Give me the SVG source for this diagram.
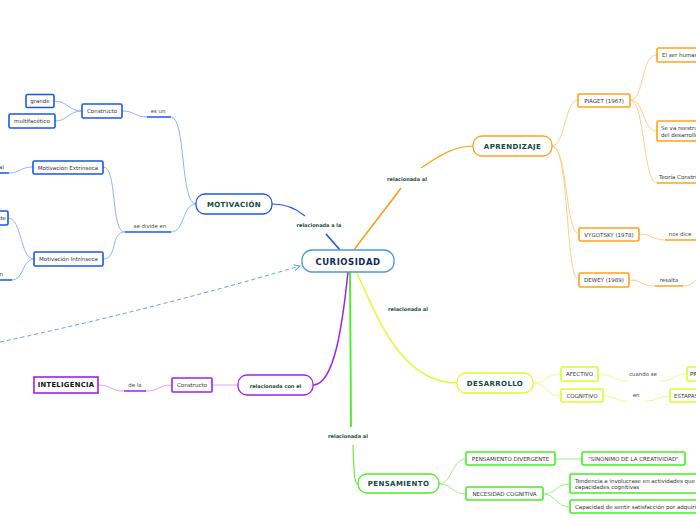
<svg xmlns="http://www.w3.org/2000/svg" width="696" height="520" viewBox="0 0 696 520">
<style>
text{font-family:"DejaVu Sans","Verdana",sans-serif;dominant-baseline:central}
.main{font-weight:bold;font-size:7px;fill:#0f4a3a;text-anchor:middle;letter-spacing:0.4px}
.sub{font-size:5.5px;fill:#333;}
.subc{font-size:5.5px;fill:#333;text-anchor:middle}
.lbl{font-size:5px;font-weight:bold;fill:#1d4a3a;text-anchor:middle}
.pl{font-size:5.4px;fill:#444;text-anchor:middle}
.c{fill:none;stroke-width:1}
.bB{fill:#fff;stroke:#1a56f0;stroke-width:1.6}
.bO{fill:#fff;stroke:#ffa31a;stroke-width:1.6}
.bY{fill:#fff;stroke:#d4ff2a;stroke-width:1.6}
.bG{fill:#fff;stroke:#44ee22;stroke-width:1.6}
.bP{fill:#fff;stroke:#a020f0;stroke-width:1.6}
.lB{stroke:#8fb2ff}.lO{stroke:#ffcf88}.lY{stroke:#e6ff88}.lG{stroke:#9cf086}.lP{stroke:#dca4f2}
</style>
<defs>
<marker id="arr" markerWidth="8" markerHeight="8" refX="6" refY="4" orient="auto" markerUnits="userSpaceOnUse">
<path d="M0,1 L6,4 L0,7" fill="none" stroke="#5aa0e0" stroke-width="1"/>
</marker>
</defs>
<rect width="696" height="520" fill="#fff"/>
<g id="connectors">
<path d="M272,204 C288,204 298,210 305,216" fill="none" stroke="#2a5ee8" stroke-width="1.2"/>
<path d="M326,234 L340,250" fill="none" stroke="#2a5ee8" stroke-width="1.8"/>
<path d="M354,250 C370,228 388,206 401,188" fill="none" stroke="#ff9a10" stroke-width="1.5"/>
<path d="M421,168 C440,155 455,146 473,146" fill="none" stroke="#ffa31a" stroke-width="1.2"/>
<path d="M356,272 C372,300 395,383 457,383" fill="none" stroke="#d8ff30" stroke-width="1.5"/>
<path d="M350,272 L351,427" fill="none" stroke="#44ee22" stroke-width="1.8"/>
<path d="M353,445 C354,472 354,484 358,484" fill="none" stroke="#66ee44" stroke-width="1.2"/>
<path d="M348,272 C343,320 335,385 313,385" fill="none" stroke="#a020f0" stroke-width="1.5"/>
<path d="M0,342 Q150,310 300,266" fill="none" stroke="#5aa0e0" stroke-width="1" stroke-dasharray="4,3" marker-end="url(#arr)"/>
<path class="c lB" d="M122,111 C135,111 135,117 147,117"/>
<path d="M147,117 H171" stroke="#1a56f0" stroke-width="1.5"/>
<path class="c lB" d="M171,117 C186,117 180,204 196,204"/>
<path class="c lB" d="M54,101 C68,101 68,111 82,111"/>
<path class="c lB" d="M55,121 C68,121 68,111 82,111"/>
<path class="c lB" d="M103,167 C118,167 110,232 125,232"/>
<path class="c lB" d="M103,259 C118,259 110,232 125,232"/>
<path d="M125,232 H171" stroke="#1a56f0" stroke-width="1.5"/>
<path class="c lB" d="M171,232 C185,232 182,204 196,204"/>
<path d="M0,173 H9" stroke="#1a56f0" stroke-width="1.5"/>
<path class="c lB" d="M9,173 C20,173 20,167 33,167"/>
<path class="c lB" d="M8,218 C22,218 20,259 34,259"/>
<path d="M0,280 H12" stroke="#1a56f0" stroke-width="1.5"/>
<path class="c lB" d="M12,280 C24,280 22,259 34,259"/>
<path class="c lO" d="M552,146 C565,146 565,100 578,100"/>
<path class="c lO" d="M552,146 C568,146 565,234 579,234"/>
<path class="c lO" d="M552,146 C570,146 565,280 579,280"/>
<path class="c lO" d="M630,100 C645,100 640,55 657,55"/>
<path class="c lO" d="M630,100 C645,100 642,131 657,131"/>
<path class="c lO" d="M630,100 C645,100 643,183 657,183"/>
<path d="M657,183 H696" stroke="#ffa31a" stroke-width="1.5"/>
<path class="c lO" d="M639,234 C652,234 652,240 665,240"/>
<path d="M665,240 H696" stroke="#ffa31a" stroke-width="1.5"/>
<path class="c lO" d="M629,280 C642,280 642,286 655,286"/>
<path d="M655,286 H683" stroke="#ffa31a" stroke-width="1.5"/>
<path class="c lO" d="M683,286 C690,286 692,283 696,280"/>
<path class="c lY" d="M533,383 C548,383 545,374 561,374"/>
<path class="c lY" d="M533,383 C548,383 545,396 561,396"/>
<path class="c lY" d="M598,374 C612,374 614,381 628,381"/>
<path class="c lY" d="M660,381 C673,381 673,374 687,374"/>
<path class="c lY" d="M603,396 C615,396 616,401 626,401"/>
<path class="c lY" d="M646,401 C658,401 658,396 670,396"/>
<path class="c lG" d="M439,484 C452,484 452,459 466,459"/>
<path class="c lG" d="M439,484 C452,484 452,494 466,494"/>
<path class="c lG" d="M555,459 H582"/>
<path class="c lG" d="M543,494 C556,494 556,484 570,484"/>
<path class="c lG" d="M543,494 C556,494 556,507 570,507"/>
<path class="c lP" d="M98,385 C112,385 110,391 124,391"/>
<path d="M124,391 H146" stroke="#a020f0" stroke-width="1.5"/>
<path class="c lP" d="M146,391 C160,391 158,385 172,385"/>
<path class="c lP" d="M212,385 H238"/>
</g>
<g id="labels">
<text class="lbl" x="319" y="225">relacionada a la</text>
<text class="lbl" x="407" y="179">relacionada al</text>
<text class="lbl" x="408" y="309">relacionada al</text>
<text class="lbl" x="348" y="436">relacionada al</text>
<text class="pl" x="158" y="111">es un</text>
<text class="pl" x="150" y="226">se divide en</text>
<text class="pl" x="135" y="385">de la</text>
<text class="pl" x="680" y="234">nos dice</text>
<text class="pl" x="669" y="280">resalta</text>
<text class="pl" x="643" y="374">cuando se</text>
<text class="pl" x="636" y="395">en</text>
<text class="sub" x="4" y="167" text-anchor="end">social</text>
<text class="sub" x="3" y="274" text-anchor="end">Satisfacción</text>
</g>
<g id="curiosidad"><rect x="302" y="250" width="92" height="22" rx="10" fill="#fff" stroke="#4a9ad6" stroke-width="1.3"/><text x="348" y="261.5" style="font-weight:bold;font-size:8.5px;fill:#0f2a5a;text-anchor:middle;letter-spacing:0.5px">CURIOSIDAD</text></g>
<g id="motivacion"><rect x="196" y="194" width="76" height="20" rx="9" fill="#fff" stroke="#1a56f0" stroke-width="1.3"/><text class="main" x="234" y="204.5">MOTIVACIÓN</text></g>
<g id="constructo1"><rect class="bB" x="82" y="104" width="40" height="14" rx="1.5"/><text class="subc" x="102" y="111">Constructo</text></g>
<g id="grande"><rect class="bB" x="26" y="94.5" width="28" height="13" rx="1.5"/><text class="subc" x="40" y="101">grande</text></g>
<g id="multifacetico"><rect class="bB" x="9" y="114" width="46" height="14" rx="1.5"/><text class="subc" x="32" y="121">multifacético</text></g>
<g id="extrinseca"><rect class="bB" x="33" y="161" width="70" height="13" rx="1.5"/><text class="subc" x="68" y="167.5">Motivación Extrínseca</text></g>
<g id="intrinseca"><rect class="bB" x="34" y="252" width="69" height="14" rx="1.5"/><text class="subc" x="68.5" y="259">Motivación Intrínseca</text></g>
<g id="disfrute"><rect class="bB" x="-40" y="211" width="48" height="14" rx="1.5"/><text class="sub" x="6" y="218" text-anchor="end">Disfrute</text></g>
<g id="aprendizaje"><rect x="473" y="136" width="79" height="20" rx="9" fill="#fff" stroke="#ffa31a" stroke-width="1.3"/><text class="main" x="512.5" y="146.5">APRENDIZAJE</text></g>
<g id="piaget"><rect class="bO" x="578" y="94" width="52" height="13" rx="1.5"/><text class="subc" x="604" y="100.5">PIAGET (1967)</text></g>
<g id="vygotsky"><rect class="bO" x="579" y="228" width="60" height="13" rx="1.5"/><text class="subc" x="609" y="234.5">VYGOTSKY (1978)</text></g>
<g id="dewey"><rect class="bO" x="579" y="273" width="50" height="14" rx="1.5"/><text class="subc" x="604" y="280">DEWEY (1989)</text></g>
<g id="serhumano"><rect class="bO" x="657" y="48" width="60" height="14" rx="1.5"/><text class="sub" x="662" y="55">El ser humano</text></g>
<g id="reestructura"><rect class="bO" x="657" y="121" width="60" height="20" rx="1.5"/><text class="sub" x="661" y="128">Se va reestructurando</text><text class="sub" x="661" y="134.5">del desarrollo</text></g>
<g id="teoria"><text class="sub" x="659" y="177">Teoría Constructivista</text></g>
<g id="desarrollo"><rect x="457" y="373" width="76" height="20" rx="9" fill="#fff" stroke="#d4ff2a" stroke-width="1.3"/><text class="main" x="495" y="383.5">DESARROLLO</text></g>
<g id="afectivo"><rect class="bY" x="561" y="367" width="37" height="14" rx="1.5"/><text class="subc" x="579.5" y="374">AFECTIVO</text></g>
<g id="cognitivo"><rect class="bY" x="561" y="389" width="42" height="13" rx="1.5"/><text class="subc" x="582" y="395.5">COGNITIVO</text></g>
<g id="p-node"><rect class="bY" x="687" y="367" width="40" height="14" rx="1.5"/><text class="sub" x="690" y="374">PREGUNTA</text></g>
<g id="estapas"><rect class="bY" x="670" y="389" width="40" height="13" rx="1.5"/><text class="sub" x="674" y="395.5">ESTAPAS</text></g>
<g id="pensamiento"><rect x="358" y="474" width="81" height="19" rx="9" fill="#fff" stroke="#44ee22" stroke-width="1.3"/><text class="main" x="398.5" y="484">PENSAMIENTO</text></g>
<g id="divergente"><rect class="bG" x="466" y="452" width="89" height="13" rx="1.5"/><text class="subc" x="510.5" y="458.5">PENSAMIENTO DIVERGENTE</text></g>
<g id="sinonimo"><rect class="bG" x="582" y="452" width="103" height="13" rx="1.5"/><text class="subc" x="633.5" y="458.5">"SINÓNIMO DE LA CREATIVIDAD"</text></g>
<g id="necesidad"><rect class="bG" x="466" y="487" width="77" height="13" rx="1.5"/><text class="subc" x="504.5" y="493.5">NECESIDAD COGNITIVA</text></g>
<g id="tendencia"><rect class="bG" x="570" y="474" width="140" height="19" rx="1.5"/><text class="sub" x="575" y="480.5">Tendencia a involucrase en actividades que</text><text class="sub" x="575" y="487">capacidades cognitivas</text></g>
<g id="capacidad"><rect class="bG" x="570" y="500" width="140" height="13" rx="1.5"/><text class="sub" x="575" y="506.5">Capacidad de sentir satisfacción por adquirir</text></g>
<g id="inteligencia"><rect x="34" y="377" width="64" height="16" fill="#fff" stroke="#a020f0" stroke-width="1.6"/><text x="66" y="385" style="font-weight:bold;font-size:6.8px;fill:#111;text-anchor:middle;letter-spacing:0.3px">INTELIGENCIA</text></g>
<g id="constructo2"><rect class="bP" x="172" y="378" width="40" height="14" rx="1"/><text class="subc" x="192" y="385">Constructo</text></g>
<g id="relacionada-con"><rect x="238" y="375" width="75" height="20" rx="9" fill="#fff" stroke="#a020f0" stroke-width="1.3"/><text class="lbl" x="275.5" y="385.5">relacionada con el</text></g>
</svg>
